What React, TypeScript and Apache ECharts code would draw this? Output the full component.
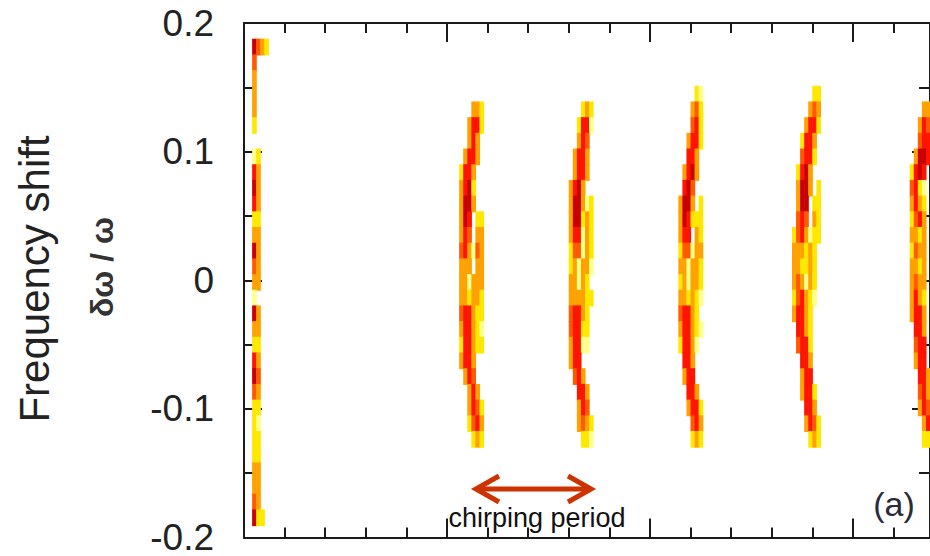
import React, { useEffect, useRef } from "react";
import * as echarts from "echarts";

// frequency-shift bin centres (row index -> δω/ω)
const ROW_Y = [0.1939, 0.1817, 0.1695, 0.1573, 0.1451, 0.1329, 0.1207, 0.1085, 0.0963, 0.0841, 0.0719, 0.0597, 0.0475, 0.0353, 0.0231, 0.0109, -0.0013, -0.0135, -0.0257, -0.0379, -0.0501, -0.0623, -0.0745, -0.0867, -0.0989, -0.1111, -0.1233, -0.1355, -0.1477, -0.1599, -0.1721, -0.1843, -0.1965];
const ROW_H = 0.0122; // bin height in δω/ω
const CELL_W = 1; // bin width in time units

// each row: [rowIndex, firstTimeBin, intensity, intensity, ...] (0 = empty)
const STRIP = [
  [1, 2, 6, 4, 3, 2],
  [2, 2, 4], [3, 2, 3], [4, 2, 3], [5, 2, 3], [6, 2, 2],
  [8, 2, 1, 2], [9, 2, 5, 3], [10, 2, 6, 3], [11, 2, 5, 3], [12, 2, 2, 2],
  [13, 2, 3, 3], [14, 2, 6, 3], [15, 2, 4, 3], [16, 2, 3, 3], [17, 2, 1],
  [18, 2, 6, 3], [19, 2, 3, 3], [20, 2, 2, 2], [21, 2, 5, 3], [22, 2, 6, 4],
  [23, 2, 4, 3], [24, 2, 2, 2], [25, 2, 2, 1], [26, 2, 2, 2], [27, 2, 2, 2],
  [28, 2, 3, 3], [29, 2, 3, 3], [30, 2, 4, 3], [31, 2, 6, 2, 2],
];
const ARC1 = [
  [5, 56, 3, 3, 2], [6, 55, 3, 5, 5, 2], [7, 55, 3, 5, 3], [8, 54, 3, 5, 5, 3],
  [9, 53, 2, 5, 5, 3], [10, 53, 3, 5, 6, 2], [11, 53, 3, 6, 6, 3], [12, 53, 3, 6, 5, 0, 2, 2],
  [13, 53, 3, 5, 4, 0, 3, 3], [14, 53, 4, 5, 3, 1, 4, 3], [15, 53, 3, 3, 3, 0, 3, 3],
  [16, 53, 3, 3, 1, 3, 3, 3], [17, 53, 3, 3, 2, 3, 3, 2], [18, 53, 4, 5, 5, 3, 2, 2],
  [19, 53, 3, 5, 5, 3, 2, 1], [20, 53, 2, 5, 5, 3, 2, 2], [21, 53, 3, 5, 5, 3],
  [22, 54, 3, 5, 4], [23, 55, 3, 5, 3], [24, 55, 3, 5, 4, 2], [25, 55, 2, 4, 5, 3], [26, 56, 2, 3, 2],
];
const ARC2 = [
  [5, 83, 2, 3, 2], [6, 82, 2, 5, 5, 1], [7, 82, 3, 5, 4], [8, 81, 3, 5, 5, 3],
  [9, 81, 3, 5, 5, 3], [10, 80, 3, 5, 6, 3], [11, 80, 3, 6, 6, 3, 1, 2], [12, 80, 3, 6, 6, 2, 3, 2],
  [13, 80, 3, 5, 5, 1, 3, 2], [14, 80, 2, 4, 4, 1, 3, 2], [15, 80, 2, 3, 1, 3, 3, 1],
  [16, 80, 3, 3, 1, 3, 2], [17, 80, 3, 3, 3, 3, 2, 2], [18, 80, 4, 5, 5, 3, 2],
  [19, 80, 4, 5, 5, 2, 2], [20, 80, 3, 5, 5, 1, 1], [21, 80, 3, 5, 5],
  [22, 81, 4, 5, 3], [23, 82, 5, 5, 3], [24, 82, 3, 5, 4], [25, 82, 3, 4, 3, 2], [26, 83, 2, 2, 1],
];
const ARC3 = [
  [4, 111, 2, 1], [5, 110, 3, 4, 2], [6, 110, 4, 5, 2], [7, 109, 3, 5, 5, 2],
  [8, 109, 5, 5, 3], [9, 108, 3, 5, 6, 3], [10, 108, 5, 6, 4], [11, 107, 3, 6, 6, 3, 0, 2],
  [12, 107, 3, 6, 5, 2, 2, 2], [13, 107, 3, 5, 5, 0, 3, 2], [14, 107, 2, 4, 4, 1, 3, 3],
  [15, 107, 3, 3, 1, 3, 3, 2], [16, 107, 2, 3, 1, 3, 3, 2], [17, 107, 3, 3, 2, 3, 2, 1],
  [18, 107, 4, 5, 5, 3, 2], [19, 107, 3, 5, 5, 3, 2, 1], [20, 107, 2, 5, 5, 3, 1],
  [21, 108, 5, 5, 3], [22, 108, 3, 5, 5], [23, 109, 5, 5, 3], [24, 109, 3, 5, 5, 2],
  [25, 110, 4, 5, 3], [26, 110, 2, 3, 2],
];
const ARC4 = [
  [4, 140, 2, 2], [5, 139, 3, 4, 3], [6, 138, 3, 5, 5, 2], [7, 137, 2, 5, 5, 3],
  [8, 137, 4, 5, 5, 2], [9, 136, 2, 5, 6, 3], [10, 136, 3, 6, 6, 3, 0, 2], [11, 136, 3, 6, 6, 0, 2, 2],
  [12, 136, 4, 5, 4, 0, 3, 2], [13, 135, 2, 4, 5, 3, 1, 2, 2], [14, 135, 3, 3, 3, 2, 3, 2],
  [15, 135, 3, 3, 2, 2, 3, 2], [16, 135, 3, 4, 3, 1, 3, 2], [17, 135, 2, 4, 5, 3, 2, 1],
  [18, 135, 3, 5, 5, 3, 2], [19, 136, 5, 5, 3, 2], [20, 136, 4, 5, 5, 2], [21, 137, 5, 5, 3],
  [22, 137, 3, 5, 5], [23, 137, 3, 5, 5, 2], [24, 138, 5, 5, 3], [25, 138, 3, 5, 4, 2], [26, 139, 2, 3, 2],
];
const ARC5 = [
  [5, 167, 3, 3], [6, 166, 3, 5, 4], [7, 166, 4, 5, 5], [8, 165, 3, 6, 6, 5],
  [9, 164, 2, 5, 6, 5], [10, 164, 4, 5, 2, 1], [11, 164, 3, 5, 3, 2], [12, 164, 2, 4, 5, 3],
  [13, 164, 3, 3, 2, 3], [14, 164, 2, 4, 3, 3], [15, 164, 3, 3, 2, 3], [16, 164, 3, 4, 3, 3],
  [17, 164, 3, 5, 3, 2], [18, 164, 3, 5, 5, 3], [19, 165, 5, 5, 3], [20, 165, 4, 5, 5],
  [21, 165, 3, 5, 5], [22, 166, 5, 5, 3], [23, 166, 4, 5, 3], [24, 166, 3, 5, 4], [25, 167, 3, 5], [26, 167, 2, 2],
];
const BANDS = [STRIP, ARC1, ARC2, ARC3, ARC4, ARC5];

const Y_TICK_LABELS: Record<string, string> = { "-0.2": "-0.2", "-0.1": "-0.1", "0": "0", "0.1": "0.1", "0.2": "0.2" };
const Y_TITLE = "Frequency shift";
const Y_SUBTITLE = "δω / ω";
const ANNOTATION = "chirping period";
const PANEL = "(a)";

const COLORS = ["#ffffff", "#ffff8c", "#ffe800", "#ffa200", "#ff5a00", "#ff1400", "#c80000"];
const FONT = "'Liberation Sans', Arial, sans-serif";
const AXIS_COLOR = "#1a1a1a";

function buildCells() {
  const out: number[][] = [];
  BANDS.forEach((band) => {
    band.forEach((row) => {
      const [k, x0, ...vals] = row;
      vals.forEach((v, i) => {
        if (v > 0) out.push([x0 + i, ROW_Y[k], v]);
      });
    });
  });
  return out;
}

export default function App() {
  const ref = useRef<HTMLDivElement>(null);
  useEffect(() => {
    if (!ref.current) return;
    const chart = echarts.init(ref.current, undefined, { renderer: "svg" });
    const xAxisBase = (pos: "top" | "bottom") => ({
      type: "value" as const,
      position: pos,
      min: 0,
      max: 169,
      interval: 50,
      axisLine: { show: true, onZero: false, lineStyle: { color: AXIS_COLOR, width: 2 } },
      axisTick: { show: true, inside: true, length: 19, lineStyle: { color: AXIS_COLOR, width: 2 } },
      minorTick: { show: true, splitNumber: 5, length: 10, lineStyle: { color: AXIS_COLOR, width: 2 } },
      axisLabel: { show: false },
      splitLine: { show: false },
      minorSplitLine: { show: false },
    });
    const yAxisBase = (pos: "left" | "right", labels: boolean) => ({
      type: "value" as const,
      position: pos,
      min: -0.2,
      max: 0.2,
      interval: 0.1,
      axisLine: { show: true, onZero: false, lineStyle: { color: AXIS_COLOR, width: 2 } },
      axisTick: { show: true, inside: true, length: 18, lineStyle: { color: AXIS_COLOR, width: 2 } },
      minorTick: { show: true, splitNumber: 2, length: 11, lineStyle: { color: AXIS_COLOR, width: 2 } },
      axisLabel: {
        show: labels,
        margin: 30,
        fontSize: 37,
        color: "#222",
        fontFamily: FONT,
        formatter: (v: number) => Y_TICK_LABELS[String(Math.round(v * 10) / 10)] ?? "",
      },
      splitLine: { show: false },
    });
    const option = {
      animation: false,
      backgroundColor: "#ffffff",
      grid: { left: 244, top: 23, width: 687, height: 521 },
      xAxis: [xAxisBase("bottom"), xAxisBase("top")],
      yAxis: [yAxisBase("left", true), yAxisBase("right", false)],
      series: [
        {
          type: "custom",
          xAxisIndex: 0,
          yAxisIndex: 0,
          data: buildCells(),
          encode: { x: 0, y: 1 },
          renderItem: (params: any, api: any) => {
            const x = api.value(0);
            const y = api.value(1);
            const v = api.value(2);
            const a = api.coord([x, y + ROW_H / 2]);
            const b = api.coord([x + CELL_W, y - ROW_H / 2]);
            const cs = params.coordSys;
            const shape = echarts.graphic.clipRectByRect(
              { x: a[0], y: a[1], width: b[0] - a[0] + 0.6, height: b[1] - a[1] + 1 },
              { x: cs.x, y: cs.y, width: cs.width, height: cs.height }
            );
            if (!shape) return null;
            return { type: "rect", shape, style: { fill: COLORS[v] } };
          },
        },
      ],
      graphic: [
        {
          type: "text",
          x: 34,
          y: 279,
          rotation: Math.PI / 2,
          style: { text: Y_TITLE, fontSize: 42, fontFamily: FONT, fill: "#222", align: "center", verticalAlign: "middle" },
        },
        {
          type: "text",
          x: 102,
          y: 267,
          rotation: Math.PI / 2,
          style: { text: Y_SUBTITLE, fontSize: 32, fontWeight: "bold", fontFamily: FONT, fill: "#333", align: "center", verticalAlign: "middle" },
        },
        {
          type: "line",
          shape: { x1: 478, y1: 489, x2: 589, y2: 489 },
          style: { stroke: "#cc3300", lineWidth: 5 },
        },
        {
          type: "polyline",
          shape: { points: [[499, 476], [476, 489], [499, 502]] },
          style: { stroke: "#cc3300", lineWidth: 5, fill: null, lineJoin: "miter" },
        },
        {
          type: "polyline",
          shape: { points: [[568, 476], [591, 489], [568, 502]] },
          style: { stroke: "#cc3300", lineWidth: 5, fill: null, lineJoin: "miter" },
        },
        {
          type: "text",
          x: 537,
          y: 518,
          style: { text: ANNOTATION, fontSize: 27, fontFamily: FONT, fill: "#111", align: "center", verticalAlign: "middle" },
        },
        {
          type: "text",
          x: 894,
          y: 504,
          style: { text: PANEL, fontSize: 34, fontFamily: FONT, fill: "#2a2a3a", align: "center", verticalAlign: "middle" },
        },
      ],
    };
    chart.setOption(option as any);
    return () => chart.dispose();
  }, []);
  return <div ref={ref} style={{ position: "absolute", left: 0, top: 0, width: 930, height: 556 }} />;
}
